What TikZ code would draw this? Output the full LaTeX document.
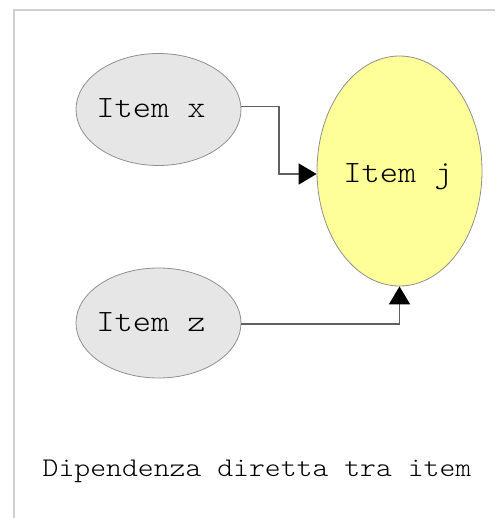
\documentclass[tikz,border=0pt]{standalone}
\usepackage{fontspec}
\newfontfamily\itemfont[FakeStretch=1.12]{Latin Modern Mono Light}
\usetikzlibrary{arrows.meta,shapes.geometric}
\definecolor{itemgray}{HTML}{E6E6E6}
\definecolor{itemyellow}{HTML}{FFFF99}
\definecolor{edgegray}{HTML}{909090}
\definecolor{linegray}{HTML}{606060}
\definecolor{framegray}{HTML}{D0D0D0}
\begin{document}
\begin{tikzpicture}[x=1pt,y=-1pt,
  itemnode/.style={ellipse, draw=edgegray, line width=0.8pt, inner sep=0pt},
  conn/.style={draw=linegray, line width=1.6pt, -{Triangle[length=18pt,width=21pt,color=black,fill=black]}},
  itemtext/.style={font=\itemfont\fontsize{31}{33}\selectfont, inner sep=0pt}]
\useasboundingbox (0,0) rectangle (495,518);
\draw[framegray, line width=1.2pt] (14,518) -- (14,10) -- (495,10);
\node[itemnode, fill=itemgray, minimum width=165pt, minimum height=112pt] (x) at (158.5,109.5) {};
\node[itemnode, fill=itemgray, minimum width=165pt, minimum height=110pt] (z) at (158.5,323) {};
\node[itemnode, fill=itemyellow, minimum width=165pt, minimum height=230pt] (j) at (399.5,171) {};
\node[itemtext] (tx) at (151,108) {Item x};
\node[itemtext] (tz) at (151,322) {Item z};
\node[itemtext] (tj) at (398,177) {Item j};
\coordinate (xa) at (x.east |- 0,106.5);
\coordinate (ja) at (j.west |- 0,174);
\draw[conn] (xa) -- (279,106.5) |- (ja);
\coordinate (zb) at (z.east |- 0,324);
\draw[conn] (zb) -| (j.south);
\node[font=\itemfont\fontsize{27}{29}\selectfont, inner sep=0pt] (cap) at (257,471) {Dipendenza diretta tra item};
\end{tikzpicture}
\end{document}
